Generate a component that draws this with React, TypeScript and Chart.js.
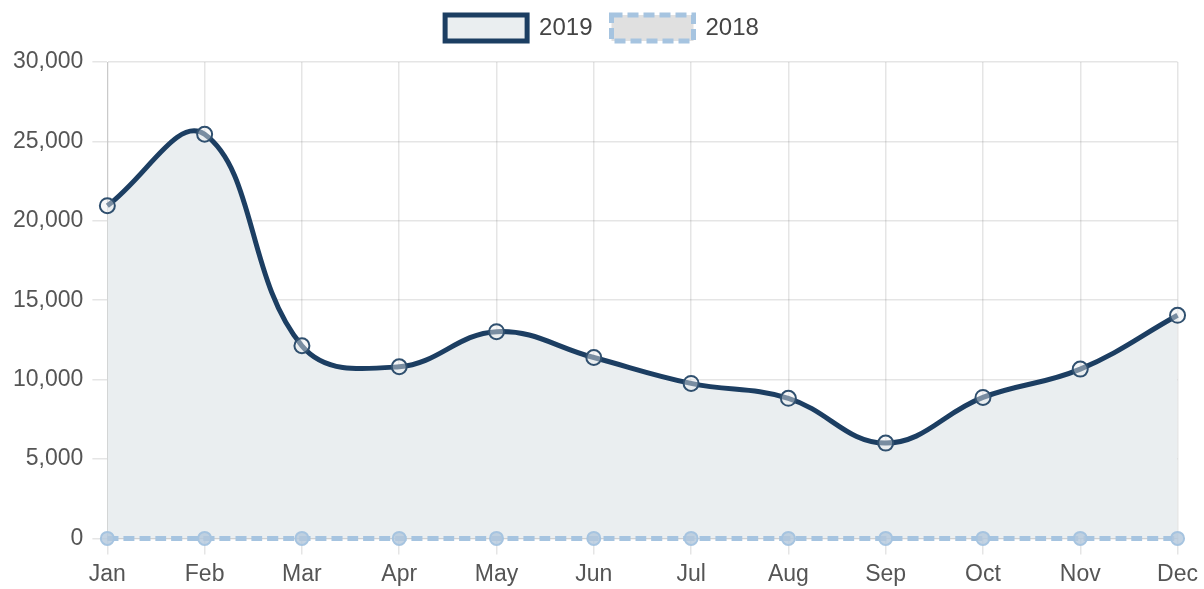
import React, { useEffect, useRef } from "react";
import { Chart, registerables } from "chart.js";

Chart.register(...registerables);

const months = ["Jan", "Feb", "Mar", "Apr", "May", "Jun", "Jul", "Aug", "Sep", "Oct", "Nov", "Dec"];
const sales2019 = [20950, 25450, 12130, 10810, 13020, 11390, 9760, 8820, 6000, 8880, 10660, 14050];
const sales2018 = [0, 0, 0, 0, 0, 0, 0, 0, 0, 0, 0, 0];
const yTicks = [0, 5000, 10000, 15000, 20000, 25000, 30000];

const legendSpacer = {
  id: "legendSpacer",
  afterInit(chart: any) {
    const legend = chart.legend;
    if (!legend || legend._spaced) return;
    const orig = legend.fit;
    legend.fit = function () {
      orig.call(this);
      this.height += 11;
    };
    legend._spaced = true;
  },
};

export default function App() {
  const ref = useRef<HTMLCanvasElement | null>(null);
  useEffect(() => {
    document.body.style.margin = "0";
    const ctx = ref.current!;
    const font = "'Liberation Sans', Arial, Helvetica, sans-serif";
    const chart = new Chart(ctx, {
      type: "line",
      data: {
        labels: months,
        datasets: [
          {
            label: "2019",
            data: sales2019,
            order: 1,
            borderColor: "#1c3e62",
            backgroundColor: "rgba(234,238,240,1)",
            fill: true,
            borderWidth: 5,
            tension: 0.4,
            pointRadius: 7.5,
            pointBorderWidth: 2,
            pointBorderColor: "#30506f",
            pointBackgroundColor: "rgba(234,238,240,0.45)",
          },
          {
            label: "2018",
            data: sales2018,
            order: 0,
            clip: false,
            borderColor: "#a6c4e0",
            backgroundColor: "rgba(224,224,224,1)",
            fill: false,
            borderWidth: 5,
            borderDash: [11, 5],
            tension: 0.4,
            pointRadius: 6.5,
            pointBorderWidth: 2,
            pointBorderColor: "#a6c4e0",
            pointBackgroundColor: "rgba(180,200,220,0.8)",
          },
        ],
      },
      options: {
        animation: false,
        responsive: false,
        maintainAspectRatio: false,
        layout: { padding: { left: 4, right: 4, top: -4, bottom: -5 } },
        plugins: {
          legend: {
            display: true,
            position: "top",
            labels: {
              boxWidth: 82,
              boxHeight: 26,
              padding: 19,
              color: "#444",
              font: { family: font, size: 24 },
              sort: (a: any, b: any) => a.datasetIndex - b.datasetIndex,
            },
          },
          tooltip: { enabled: false },
        },
        scales: {
          x: {
            grid: { color: "rgba(0,0,0,0.1)", tickLength: 16, lineWidth: 1.5 },
            border: { color: "rgba(0,0,0,0.12)" },
            ticks: { color: "#555", padding: 6, font: { family: font, size: 23 } },
          },
          y: {
            min: 0,
            max: 30000,
            grid: { color: "rgba(0,0,0,0.1)", tickLength: 15, lineWidth: 1.5 },
            border: { color: "rgba(0,0,0,0.12)" },
            afterBuildTicks: (axis: any) => {
              axis.ticks = yTicks.map((v) => ({ value: v }));
            },
            ticks: {
              color: "#555",
              padding: 9,
              font: { family: font, size: 23 },
              callback: (v: any) => Number(v).toLocaleString("en-US"),
            },
          },
        },
      },
      plugins: [legendSpacer],
    });
    return () => chart.destroy();
  }, []);
  return (
    <div style={{ position: "absolute", left: 0, top: 0, width: 1204, height: 589, background: "#fff" }}>
      <canvas ref={ref} width={1204} height={589} style={{ width: 1204, height: 589 }} />
    </div>
  );
}
